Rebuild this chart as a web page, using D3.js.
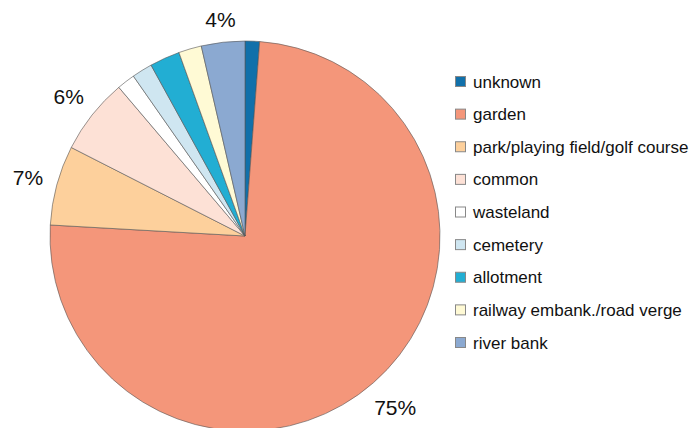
<!DOCTYPE html>
<html>
<head>
<meta charset="utf-8">
<script src="https://cdn.jsdelivr.net/npm/d3@7/dist/d3.min.js"></script>
<style>
  html, body { margin: 0; padding: 0; background: #fff; }
  svg { display: block; font-family: "Liberation Sans", Arial, sans-serif; }
</style>
</head>
<body>
<svg id="chart" width="693" height="428"></svg>
<script>
// Habitat categories and their share of records (percent)
const categories = [
  "unknown",
  "garden",
  "park/playing field/golf course",
  "common",
  "wasteland",
  "cemetery",
  "allotment",
  "railway embank./road verge",
  "river bank"
];
const shares = [1.2, 74.7, 6.6, 6.3, 1.5, 1.7, 2.5, 1.9, 3.6];
const colours = [
  "#1170aa", "#f4967a", "#fdd09c", "#fde1d6", "#ffffff",
  "#cfe6f1", "#22aed3", "#fffad5", "#8ba9d1"
];

const svg = d3.select("#chart");
const cx = 245, cy = 236, radius = 195;
const labelGap = 13;

const data = categories.map((c, i) => ({ name: c, value: shares[i], colour: colours[i] }));
const total = d3.sum(shares);

const pie = d3.pie().value(d => d.value).sort(null);
const arcs = pie(data);
const arc = d3.arc().innerRadius(0).outerRadius(radius);

const g = svg.append("g").attr("transform", `translate(${cx},${cy})`);

g.selectAll("path.slice")
  .data(arcs)
  .join("path")
  .attr("class", "slice")
  .attr("d", arc)
  .attr("fill", d => d.data.colour)
  .attr("stroke", "#555")
  .attr("stroke-width", 0.6)
  .attr("stroke-linejoin", "round");

// Percentage labels only for the larger slices; each label box sits a fixed gap
// outside the rim along the slice's mid-angle
g.selectAll("text.pct")
  .data(arcs.filter(d => d.data.value / total >= 0.03))
  .join("text")
  .attr("class", "pct")
  .attr("text-anchor", "middle")
  .attr("dominant-baseline", "central")
  .attr("font-size", 21)
  .attr("fill", "#111")
  .text(d => Math.round(d.data.value / total * 100) + "%")
  .each(function (d) {
    const box = this.getBBox();
    const a = (d.startAngle + d.endAngle) / 2;
    const ux = Math.sin(a), uy = -Math.cos(a);
    const extent = Math.abs(ux) * box.width / 2 + Math.abs(uy) * 8;
    const dist = radius + labelGap + extent;
    d3.select(this).attr("transform", `translate(${ux * dist},${uy * dist})`);
  });

// Legend
const legendY = d3.scalePoint().domain(categories).range([81.5, 342.5]);
const legend = svg.append("g");
const rows = legend.selectAll("g.row")
  .data(data)
  .join("g")
  .attr("class", "row")
  .attr("transform", d => `translate(455,${legendY(d.name)})`);

rows.append("rect")
  .attr("x", 0.5).attr("y", -5)
  .attr("width", 10).attr("height", 10)
  .attr("fill", d => d.colour)
  .attr("stroke", "#888")
  .attr("stroke-width", 1);

rows.append("text")
  .attr("x", 18)
  .attr("y", 0.5)
  .attr("dominant-baseline", "central")
  .attr("font-size", 17)
  .attr("fill", "#111")
  .text(d => d.name);
</script>
</body>
</html>
